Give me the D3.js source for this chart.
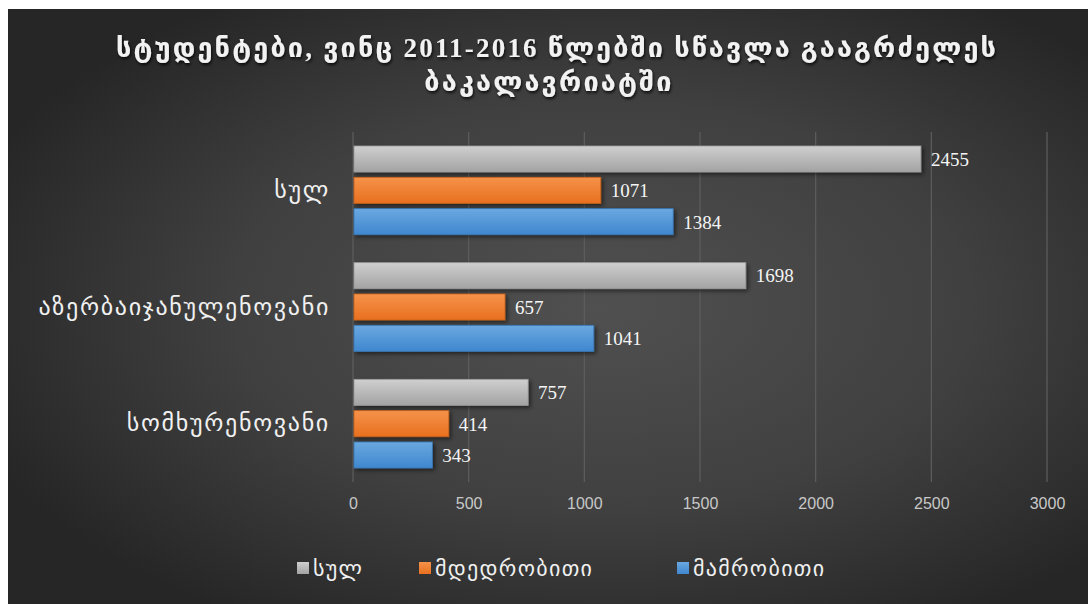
<!DOCTYPE html>
<html><head><meta charset="utf-8">
<script src="https://cdn.jsdelivr.net/npm/d3@7"></script>
<style>
html,body{margin:0;padding:0;background:#fff;}
svg{display:block;}
</style></head>
<body>
<svg id="chart" width="1088" height="604"></svg>
<script>
const titleLines = ["სტუდენტები, ვინც 2011-2016 წლებში სწავლა გააგრძელეს", "ბაკალავრიატში"];
const categories = ["სულ", "აზერბაიჯანულენოვანი", "სომხურენოვანი"];
const seriesNames = ["სულ", "მდედრობითი", "მამრობითი"];
const totalValues = [2455, 1698, 757];
const femaleValues = [1071, 657, 414];
const maleValues = [1384, 1041, 343];
const xTicks = [0, 500, 1000, 1500, 2000, 2500, 3000];

const seriesValues = [totalValues, femaleValues, maleValues];
const colors = [
  {top:"#cfcfcf", bot:"#a3a3a3", stroke:"#9a9a9a"},
  {top:"#f5924a", bot:"#e8701f", stroke:"#c9631c"},
  {top:"#6aa8e0", bot:"#3f87cf", stroke:"#3a78b5"}
];

const svg = d3.select("#chart");
const W = 1088, H = 604;
const defs = svg.append("defs");

const bg = defs.append("radialGradient").attr("id","bg")
  .attr("cx","0.55").attr("cy","0.5").attr("r","0.62");
bg.append("stop").attr("offset","0").attr("stop-color","#505050");
bg.append("stop").attr("offset","0.55").attr("stop-color","#404040");
bg.append("stop").attr("offset","1").attr("stop-color","#262626");

colors.forEach((c,i)=>{
  const g = defs.append("linearGradient").attr("id","bar"+i)
    .attr("x1","0").attr("y1","0").attr("x2","0").attr("y2","1");
  g.append("stop").attr("offset","0").attr("stop-color",c.top);
  g.append("stop").attr("offset","1").attr("stop-color",c.bot);
});

const sh = defs.append("filter").attr("id","shadow").attr("x","-5%").attr("y","-30%").attr("width","115%").attr("height","180%");
sh.append("feDropShadow").attr("dx",2).attr("dy",2).attr("stdDeviation",2).attr("flood-color","#000").attr("flood-opacity",0.55);

const tsh = defs.append("filter").attr("id","tshadow").attr("x","-5%").attr("y","-20%").attr("width","110%").attr("height","150%");
tsh.append("feDropShadow").attr("dx",1).attr("dy",2).attr("stdDeviation",1.5).attr("flood-color","#000").attr("flood-opacity",0.8);

svg.append("rect").attr("x",8).attr("y",9).attr("width",W-8).attr("height",H-9).attr("fill","url(#bg)");

// Title
const serif = "'Liberation Serif','DejaVu Serif',serif";
const geo = "'DejaVu Sans',sans-serif";
const title = svg.append("text").attr("text-anchor","middle")
  .attr("fill","#f2f2f2").attr("font-family","'Liberation Serif','DejaVu Sans',serif")
  .attr("font-size",27).attr("font-weight","bold").attr("letter-spacing",2.2)
  .attr("filter","url(#tshadow)");
const titleX = [557, 549];
titleLines.forEach((t,i)=>{
  title.append("tspan").attr("x",titleX[i]).attr("y",57 + i*34).text(t);
});

const margin = {left:353, right:1047, top:132, bottom:482};
const x = d3.scaleLinear().domain([0,3000]).range([margin.left, margin.right]);
const y0 = d3.scaleBand().domain(categories).range([margin.top, margin.bottom]).paddingInner(0.24).paddingOuter(0.12);
const y1 = d3.scaleBand().domain(d3.range(3)).range([0, y0.bandwidth()]).paddingInner(0.17);

// grid
svg.append("g").selectAll("line").data(xTicks).join("line")
  .attr("x1",d=>x(d)).attr("x2",d=>x(d))
  .attr("y1",margin.top).attr("y2",margin.bottom)
  .attr("stroke","#5e5e5e").attr("stroke-width",1.2);

// x axis
const xAxis = svg.append("g").attr("transform",`translate(0,${margin.bottom})`)
  .call(d3.axisBottom(x).tickValues(xTicks).tickSize(0).tickPadding(16).tickFormat(d3.format("d")));
xAxis.select(".domain").remove();
xAxis.selectAll("text").attr("fill","#c8c8c8").attr("font-size",16)
  .attr("font-family","'Liberation Sans','Open Sans',sans-serif");

// y axis
const yAxis = svg.append("g").attr("transform",`translate(${margin.left},0)`)
  .call(d3.axisLeft(y0).tickSize(0).tickPadding(23));
yAxis.select(".domain").remove();
yAxis.selectAll("text").attr("fill","#f0f0f0").attr("font-size",24)
  .attr("letter-spacing",1.7).attr("font-family",geo);

// bars
const groups = svg.append("g").selectAll("g").data(categories).join("g")
  .attr("transform",d=>`translate(0,${y0(d)})`);
groups.each(function(cat,ci){
  const g = d3.select(this);
  const data = seriesValues.map((vals,si)=>({si, v:vals[ci]}));
  g.selectAll("rect").data(data).join("rect")
    .attr("x",x(0)+1).attr("y",d=>y1(d.si))
    .attr("width",d=>x(d.v)-x(0)-1).attr("height",y1.bandwidth())
    .attr("fill",d=>`url(#bar${d.si})`)
    .attr("stroke",d=>colors[d.si].stroke).attr("stroke-width",0.8)
    .attr("filter","url(#shadow)");
  g.selectAll("text").data(data).join("text")
    .attr("x",d=>x(d.v)+10).attr("y",d=>y1(d.si)+y1.bandwidth()/2)
    .attr("dy","0.36em").attr("fill","#f5f5f5")
    .attr("font-family",serif).attr("font-size",19)
    .text(d=>d.v);
});

// legend
const legendX = [297, 419, 677];
const leg = svg.append("g").selectAll("g").data(seriesNames).join("g")
  .attr("transform",(d,i)=>`translate(${legendX[i]},568)`);
leg.append("rect").attr("x",0).attr("y",-6).attr("width",12).attr("height",12)
  .attr("fill",(d,i)=>`url(#bar${i})`);
leg.append("text").attr("x",16).attr("dy","0.35em").attr("fill","#f0f0f0")
  .attr("letter-spacing",1.3).attr("font-family",geo).attr("font-size",22).text(d=>d);
</script>
</body></html>
